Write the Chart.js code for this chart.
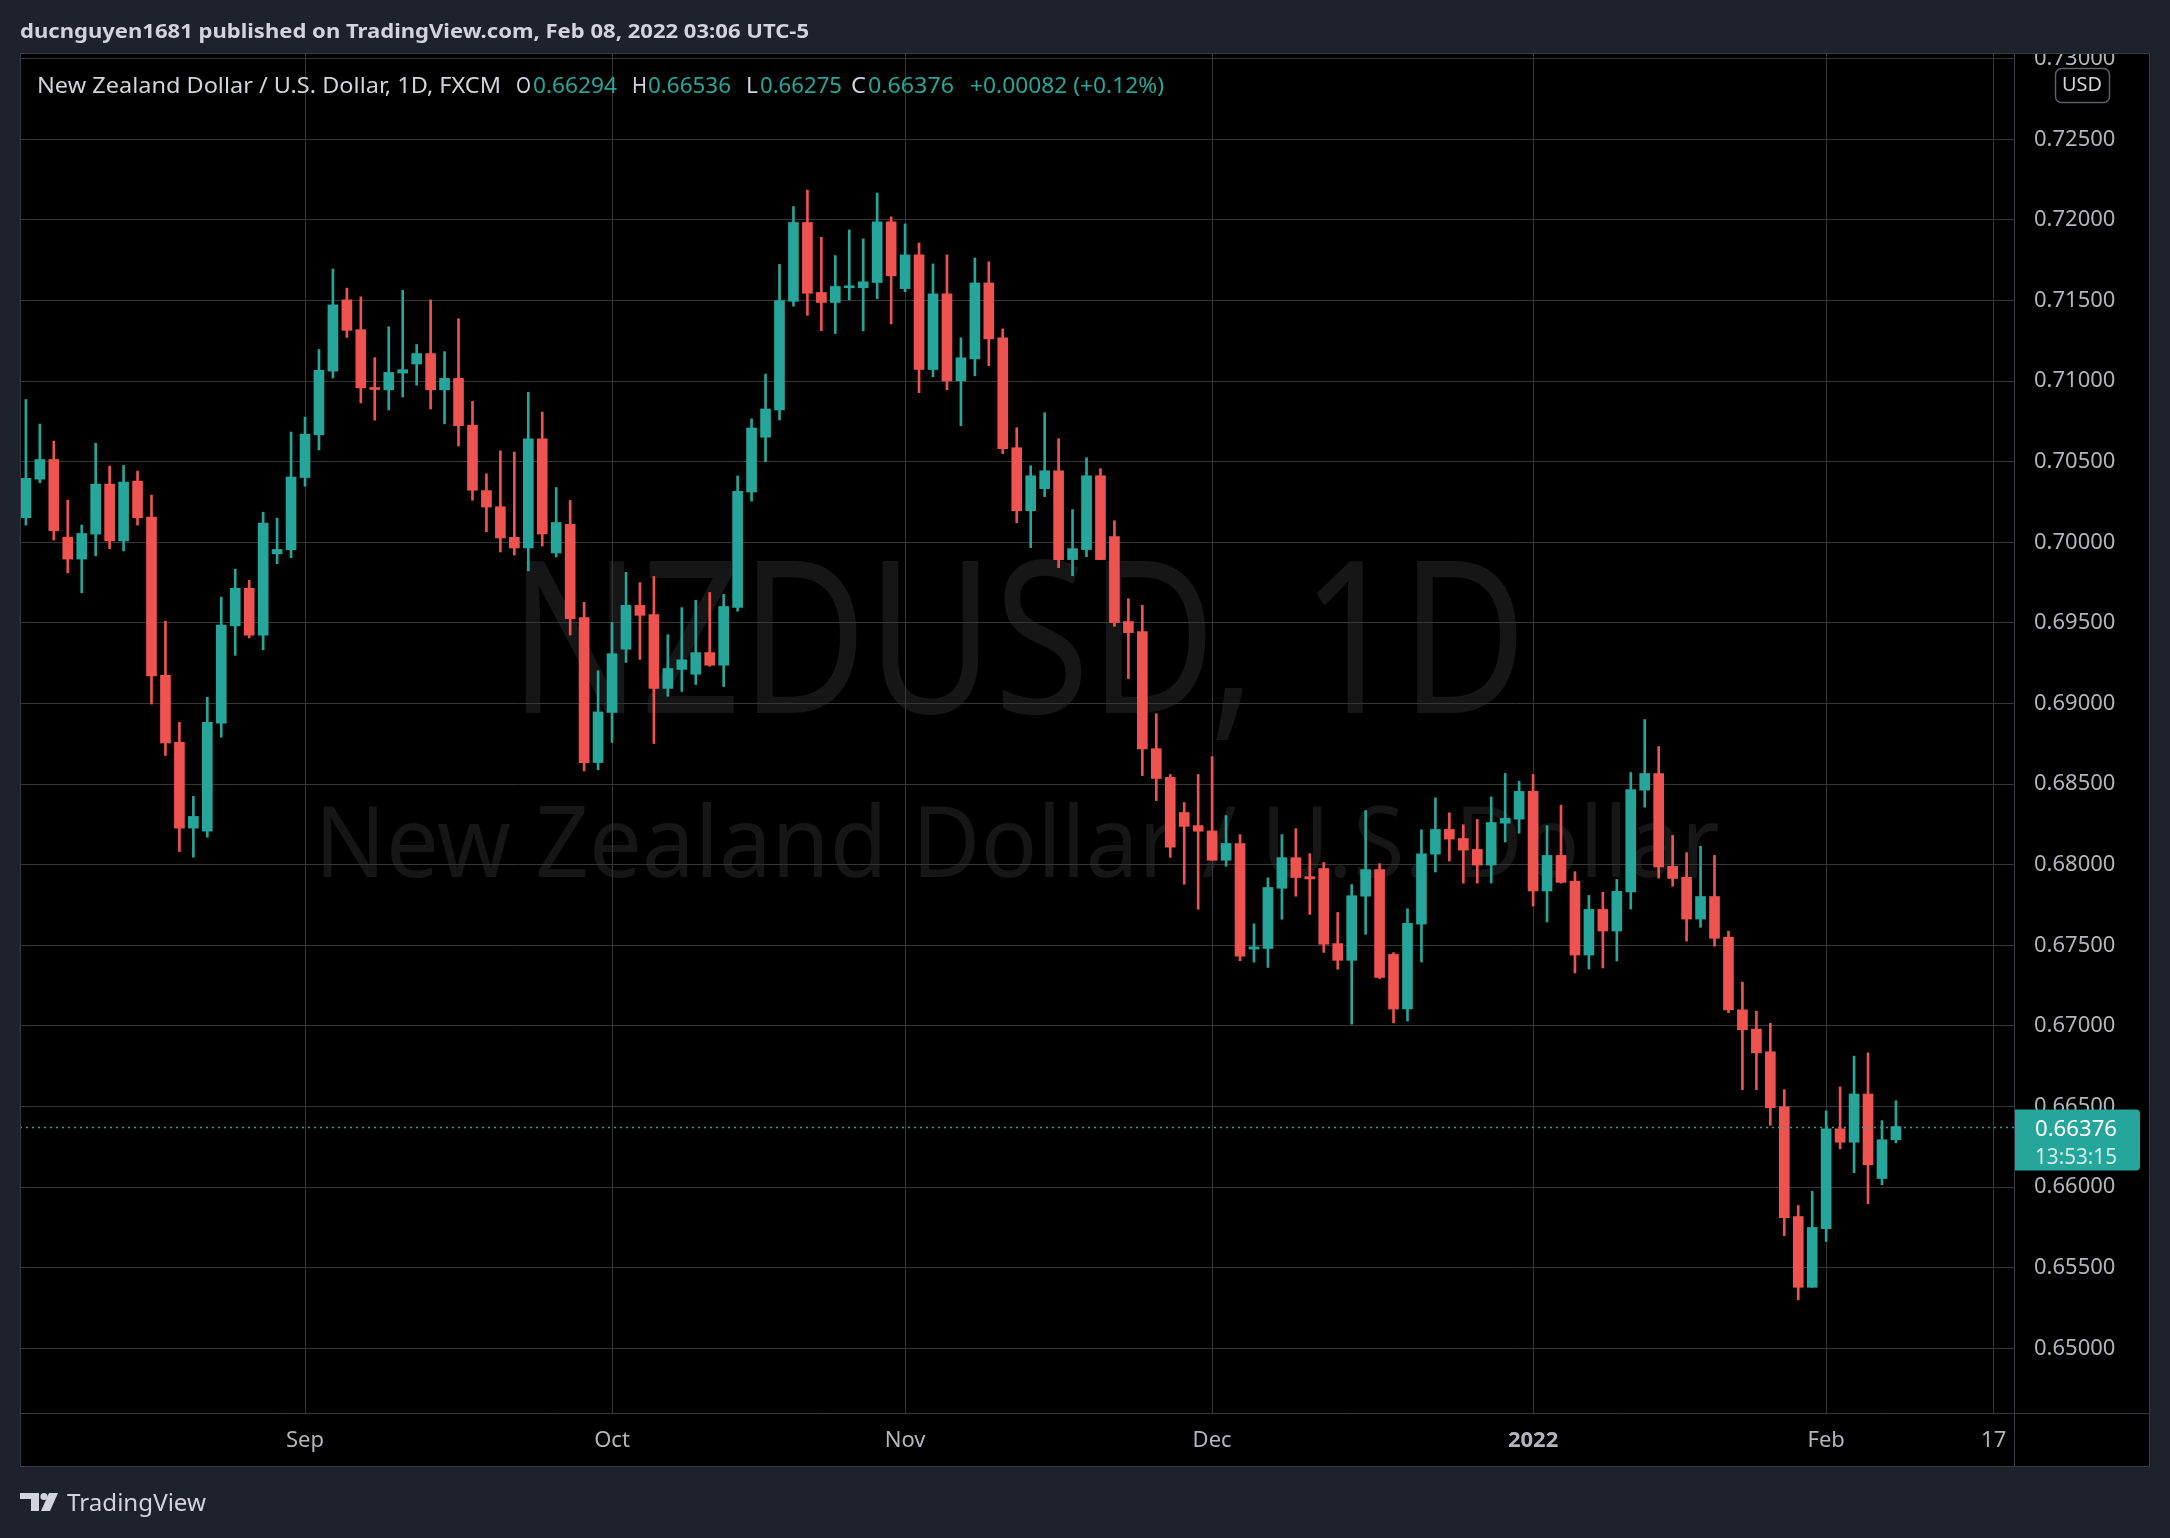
<!DOCTYPE html>
<html>
<head>
<meta charset="utf-8">
<title>NZDUSD, 1D</title>
<script src="https://cdn.jsdelivr.net/npm/chart.js@4.4.1/dist/chart.umd.min.js"></script>
<style>
  html, body { margin: 0; padding: 0; background: #1e222d; }
  #wrap { width: 2170px; height: 1538px; }
</style>
</head>
<body>
<div id="wrap"><canvas id="chart" width="2170" height="1538"></canvas></div>
<script>
// NZDUSD daily candles, FXCM, 4 Aug 2021 .. 8 Feb 2022 (one bar per weekday)
const opens = [
  0.70153, 0.70392, 0.70514, 0.70032, 0.69896, 0.70051, 0.70361, 0.70009, 0.70380, 0.70156,
  0.69175, 0.68759, 0.68227, 0.68209, 0.68879, 0.69482, 0.69715, 0.69424, 0.69929, 0.69954,
  0.70402, 0.70667, 0.71062, 0.71504, 0.71319, 0.70958, 0.70946, 0.71050, 0.71106, 0.71171,
  0.70946, 0.71017, 0.70727, 0.70321, 0.70221, 0.70031, 0.69965, 0.70642, 0.69934, 0.70112,
  0.69533, 0.68634, 0.68945, 0.69337, 0.69609, 0.69552, 0.69094, 0.69212, 0.69182, 0.69316,
  0.69238, 0.69597, 0.70312, 0.70652, 0.70822, 0.71495, 0.71984, 0.71550, 0.71488, 0.71579,
  0.71579, 0.71612, 0.71988, 0.71574, 0.71783, 0.71072, 0.71541, 0.71002, 0.71138, 0.71609,
  0.71269, 0.70587, 0.70196, 0.70333, 0.70444, 0.69893, 0.69955, 0.70413, 0.70035, 0.69509,
  0.69447, 0.68720, 0.68542, 0.68324, 0.68243, 0.68210, 0.68028, 0.68132, 0.67477, 0.67481,
  0.67854, 0.68044, 0.67926, 0.67977, 0.67511, 0.67407, 0.67805, 0.67970, 0.67444, 0.67105,
  0.67632, 0.68066, 0.68219, 0.68163, 0.68095, 0.67998, 0.68258, 0.68283, 0.68455, 0.67837,
  0.68058, 0.67897, 0.67440, 0.67723, 0.67589, 0.67831, 0.68463, 0.68566, 0.67990, 0.67922,
  0.67663, 0.67803, 0.67551, 0.67100, 0.66981, 0.66840, 0.66498, 0.65818, 0.65379, 0.65743,
  0.66362, 0.66279, 0.66578, 0.66054, 0.66294
];
const highs = [
  0.70886, 0.70734, 0.70628, 0.70262, 0.70107, 0.70614, 0.70473, 0.70477, 0.70442, 0.70293,
  0.69511, 0.68883, 0.68424, 0.69039, 0.69660, 0.69833, 0.69765, 0.70187, 0.70150, 0.70684,
  0.70777, 0.71196, 0.71696, 0.71577, 0.71523, 0.71146, 0.71337, 0.71564, 0.71227, 0.71504,
  0.71183, 0.71387, 0.70875, 0.70425, 0.70567, 0.70560, 0.70931, 0.70808, 0.70340, 0.70260,
  0.69628, 0.69203, 0.69503, 0.69814, 0.69750, 0.69788, 0.69427, 0.69595, 0.69640, 0.69689,
  0.69677, 0.70412, 0.70766, 0.71044, 0.71724, 0.72083, 0.72185, 0.71892, 0.71779, 0.71938,
  0.71882, 0.72167, 0.72019, 0.71975, 0.71857, 0.71727, 0.71783, 0.71269, 0.71764, 0.71740,
  0.71324, 0.70711, 0.70475, 0.70804, 0.70643, 0.70203, 0.70525, 0.70457, 0.70134, 0.69650,
  0.69609, 0.68937, 0.68560, 0.68386, 0.68560, 0.68671, 0.68305, 0.68187, 0.67634, 0.67919,
  0.68187, 0.68224, 0.68069, 0.68014, 0.67704, 0.67877, 0.68336, 0.68007, 0.67455, 0.67727,
  0.68217, 0.68415, 0.68322, 0.68248, 0.68281, 0.68421, 0.68566, 0.68517, 0.68560, 0.68242,
  0.68368, 0.67957, 0.67810, 0.67829, 0.67909, 0.68572, 0.68901, 0.68733, 0.68182, 0.68075,
  0.68114, 0.68058, 0.67588, 0.67272, 0.67092, 0.67017, 0.66605, 0.65886, 0.65974, 0.66473,
  0.66622, 0.66813, 0.66833, 0.66413, 0.66536
];
const lows = [
  0.70107, 0.70370, 0.70014, 0.69811, 0.69687, 0.69916, 0.69960, 0.69947, 0.70107, 0.68997,
  0.68678, 0.68082, 0.68047, 0.68171, 0.68792, 0.69299, 0.69407, 0.69333, 0.69867, 0.69904,
  0.70348, 0.70573, 0.71019, 0.71271, 0.70865, 0.70758, 0.70821, 0.70902, 0.70975, 0.70827,
  0.70735, 0.70598, 0.70261, 0.70065, 0.69940, 0.69921, 0.69823, 0.69977, 0.69909, 0.69425,
  0.68582, 0.68589, 0.68759, 0.69255, 0.69274, 0.68752, 0.69045, 0.69075, 0.69118, 0.69231,
  0.69106, 0.69573, 0.70256, 0.70500, 0.70759, 0.71465, 0.71408, 0.71313, 0.71295, 0.71504,
  0.71312, 0.71512, 0.71355, 0.71554, 0.70928, 0.71027, 0.70946, 0.70723, 0.71033, 0.71095,
  0.70550, 0.70122, 0.69967, 0.70283, 0.69843, 0.69793, 0.69911, 0.69893, 0.69479, 0.69155,
  0.68553, 0.68398, 0.68046, 0.67879, 0.67724, 0.68028, 0.67991, 0.67405, 0.67396, 0.67363,
  0.67662, 0.67805, 0.67692, 0.67456, 0.67352, 0.67011, 0.67569, 0.67294, 0.67019, 0.67031,
  0.67397, 0.67955, 0.68023, 0.67886, 0.67886, 0.67886, 0.68141, 0.68196, 0.67744, 0.67645,
  0.67886, 0.67329, 0.67353, 0.67360, 0.67403, 0.67725, 0.68357, 0.67917, 0.67867, 0.67527,
  0.67612, 0.67495, 0.67083, 0.66605, 0.66605, 0.66384, 0.65699, 0.65301, 0.65379, 0.65663,
  0.66238, 0.66090, 0.65898, 0.66015, 0.66275
];
const closes = [
  0.70397, 0.70514, 0.70072, 0.69896, 0.70055, 0.70361, 0.70009, 0.70374, 0.70152, 0.69171,
  0.68755, 0.68227, 0.68300, 0.68883, 0.69486, 0.69715, 0.69424, 0.70119, 0.69956, 0.70405,
  0.70671, 0.71067, 0.71473, 0.71315, 0.70958, 0.70948, 0.71054, 0.71071, 0.71171, 0.70946,
  0.71017, 0.70723, 0.70323, 0.70219, 0.70027, 0.69965, 0.70642, 0.70052, 0.70123, 0.69526,
  0.68634, 0.68948, 0.69309, 0.69609, 0.69547, 0.69094, 0.69217, 0.69271, 0.69316, 0.69238,
  0.69602, 0.70317, 0.70709, 0.70827, 0.71500, 0.71984, 0.71545, 0.71488, 0.71587, 0.71587,
  0.71616, 0.71988, 0.71653, 0.71783, 0.71072, 0.71541, 0.71002, 0.71145, 0.71609, 0.71262,
  0.70581, 0.70196, 0.70413, 0.70444, 0.69893, 0.69961, 0.70413, 0.69893, 0.69502, 0.69440,
  0.68718, 0.68535, 0.68109, 0.68238, 0.68208, 0.68028, 0.68132, 0.67433, 0.67491, 0.67859,
  0.68044, 0.67921, 0.67912, 0.67507, 0.67407, 0.67808, 0.67970, 0.67301, 0.67105, 0.67636,
  0.68068, 0.68219, 0.68159, 0.68091, 0.67998, 0.68262, 0.68287, 0.68455, 0.67837, 0.68058,
  0.67891, 0.67440, 0.67723, 0.67589, 0.67835, 0.68467, 0.68566, 0.67986, 0.67915, 0.67663,
  0.67803, 0.67544, 0.67100, 0.66976, 0.66833, 0.66493, 0.65811, 0.65379, 0.65750, 0.66362,
  0.66279, 0.66578, 0.66139, 0.66294, 0.66376
];

// time axis: bar index of each labelled day
const timeTicks = [20, 42, 63, 85, 108, 129, 141];
const timeLabels = ["Sep", "Oct", "Nov", "Dec", "2022", "Feb", "17"];
const priceTicks = [0.650, 0.655, 0.660, 0.665, 0.670, 0.675, 0.680, 0.685, 0.690,
                    0.695, 0.700, 0.705, 0.710, 0.715, 0.720, 0.725, 0.730];

const UP = "#26a69a";
const DOWN = "#ef5350";
const TEXT = "#b2b5be";
const LIGHT = "#d1d4dc";
const GRID = "#363636";
const FRAME = "#363a45";
const OUTER = "#1e222d";
const FONT = '"Noto Sans", "DejaVu Sans", sans-serif';

const last = closes.length - 1;
const candleColors = closes.map((c, i) => c >= opens[i] ? UP : DOWN);
const bodyData = opens.map((o, i) => ({ x: i, y: [o, closes[i]] }));
const wickData = lows.map((l, i) => ({ x: i, y: [l, highs[i]] }));

// draw text squeezed/stretched to a given width (baseline = alphabetic)
function fitText(ctx, text, x, y, width, font, color, align) {
  ctx.save();
  ctx.font = font;
  ctx.fillStyle = color;
  ctx.textBaseline = "alphabetic";
  ctx.textAlign = "left";
  const w = ctx.measureText(text).width;
  const left = align === "center" ? x - width / 2 : x;
  ctx.translate(left, y);
  ctx.scale(width / w, 1);
  ctx.fillText(text, 0, 0);
  ctx.restore();
}

const tvFrame = {
  id: "tvFrame",
  beforeDraw(chart) {
    const ctx = chart.ctx;
    ctx.save();
    ctx.fillStyle = OUTER;
    ctx.fillRect(0, 0, chart.width, chart.height);
    ctx.fillStyle = "#000000";
    ctx.fillRect(20, 53, 2130, 1414);
    ctx.restore();
    // watermark
    fitText(ctx, "NZDUSD, 1D", 1018, 713, 1018, "213px " + FONT, "#161616", "center");
    fitText(ctx, "New Zealand Dollar / U.S. Dollar", 1017, 877, 1405, "98px " + FONT, "#161616", "center");
  },
  afterDatasetsDraw(chart) {
    const ctx = chart.ctx;
    const area = chart.chartArea;
    const y = Math.round(chart.scales.y.getPixelForValue(closes[last])) + 0.5;
    ctx.save();
    ctx.strokeStyle = UP;
    ctx.lineWidth = 1.5;
    ctx.setLineDash([2, 4]);
    ctx.beginPath();
    ctx.moveTo(area.left, y);
    ctx.lineTo(area.right, y);
    ctx.stroke();
    ctx.restore();
  },
  afterDraw(chart) {
    const ctx = chart.ctx;
    const area = chart.chartArea;
    ctx.save();
    // keep the top price label under the frame edge
    ctx.fillStyle = OUTER;
    ctx.fillRect(area.right, 0, chart.width - area.right, 53);
    // frame and separators
    ctx.strokeStyle = FRAME;
    ctx.lineWidth = 1;
    ctx.strokeRect(20.5, 53.5, 2129, 1413);
    ctx.beginPath();
    ctx.moveTo(20, area.bottom + 0.5);
    ctx.lineTo(2150, area.bottom + 0.5);
    ctx.moveTo(area.right + 0.5, 53);
    ctx.lineTo(area.right + 0.5, 1467);
    ctx.stroke();

    // USD badge
    ctx.fillStyle = "#000000";
    ctx.strokeStyle = "#5d606b";
    ctx.lineWidth = 1.5;
    ctx.beginPath();
    ctx.roundRect(2055.5, 68.5, 54, 34, 6);
    ctx.fill();
    ctx.stroke();
    ctx.restore();
    fitText(ctx, "USD", 2062, 91, 40, "20px " + FONT, LIGHT, "left");

    // last price tag
    const py = chart.scales.y.getPixelForValue(closes[last]);
    ctx.save();
    ctx.fillStyle = UP;
    ctx.beginPath();
    ctx.roundRect(area.right + 1, py - 17, 125, 61, [0, 4, 4, 0]);
    ctx.fill();
    ctx.restore();
    fitText(ctx, closes[last].toFixed(5), 2035, py + 9.5, 82, "22px " + FONT, "#ffffff", "left");
    fitText(ctx, "13:53:15", 2035, py + 37, 82, "22px " + FONT, "rgba(255,255,255,0.78)", "left");

    // header
    fitText(ctx, "ducnguyen1681 published on TradingView.com, Feb 08, 2022 03:06 UTC-5",
            20, 38, 789, "bold 20px " + FONT, LIGHT, "left");

    // OHLC legend
    const change = closes[last] - closes[last - 1];
    const pct = change / closes[last - 1] * 100;
    const sign = change >= 0 ? "+" : "-";
    const valColor = change >= 0 ? UP : DOWN;
    const f = "21px " + FONT;
    const base = 92.5;
    fitText(ctx, "New Zealand Dollar / U.S. Dollar, 1D, FXCM", 37, base, 464, f, LIGHT, "left");
    const parts = [
      ["O", 516, opens[last].toFixed(5), 533, 84],
      ["H", 632, highs[last].toFixed(5), 648, 83],
      ["L", 746, lows[last].toFixed(5), 760, 82],
      ["C", 851, closes[last].toFixed(5), 868, 86]
    ];
    parts.forEach(p => {
      fitText(ctx, p[0], p[1], base, p[0] === "L" ? 12 : 15, f, LIGHT, "left");
      fitText(ctx, p[2], p[3], base, p[4], f, valColor, "left");
    });
    fitText(ctx, sign + Math.abs(change).toFixed(5) + " (" + sign + Math.abs(pct).toFixed(2) + "%)",
            970, base, 194, f, valColor, "left");

    // TradingView logo
    ctx.save();
    ctx.fillStyle = LIGHT;
    ctx.fillRect(20, 1493, 19, 6);
    ctx.fillRect(31, 1493, 8, 18);
    ctx.beginPath();
    ctx.arc(44, 1496.5, 3.6, 0, Math.PI * 2);
    ctx.fill();
    ctx.beginPath();
    ctx.moveTo(49, 1493);
    ctx.lineTo(58, 1493);
    ctx.lineTo(50, 1511);
    ctx.lineTo(41, 1511);
    ctx.closePath();
    ctx.fill();
    ctx.restore();
    fitText(ctx, "TradingView", 67, 1511, 139, "24px " + FONT, LIGHT, "left");
  }
};

new Chart(document.getElementById("chart"), {
  type: "bar",
  data: {
    datasets: [
      {
        label: "body",
        data: bodyData,
        backgroundColor: candleColors,
        borderWidth: 0,
        barThickness: 10,
        minBarLength: 2,
        grouped: false,
        order: 1
      },
      {
        label: "wick",
        data: wickData,
        backgroundColor: candleColors,
        borderWidth: 0,
        barThickness: 2,
        grouped: false,
        order: 2
      }
    ]
  },
  options: {
    responsive: false,
    animation: false,
    devicePixelRatio: 1,
    layout: { padding: { left: 20, top: 53, right: 20, bottom: 71 } },
    plugins: {
      legend: { display: false },
      tooltip: { enabled: false }
    },
    scales: {
      x: {
        type: "linear",
        min: -0.423,
        max: 142.46,
        offset: false,
        afterFit(scale) { scale.height = 54; },
        afterBuildTicks(scale) { scale.ticks = timeTicks.map(v => ({ value: v })); },
        grid: { color: GRID, lineWidth: 1, drawTicks: false, offset: false },
        border: { display: false },
        ticks: {
          autoSkip: false,
          maxRotation: 0,
          padding: 15,
          color: TEXT,
          font: (c) => ({
            family: FONT,
            size: 22,
            weight: c.tick && c.tick.value === timeTicks[timeLabels.indexOf("2022")] ? "bold" : "normal"
          }),
          callback: (v) => timeLabels[timeTicks.indexOf(v)]
        }
      },
      y: {
        position: "right",
        min: 0.645992,
        max: 0.730354,
        afterFit(scale) { scale.width = 136; },
        afterBuildTicks(scale) { scale.ticks = priceTicks.map(v => ({ value: v })); },
        grid: { color: GRID, lineWidth: 1, drawTicks: false },
        border: { display: false },
        ticks: {
          padding: 20,
          color: TEXT,
          font: { family: FONT, size: 22 },
          callback: (v) => Number(v).toFixed(5)
        }
      }
    }
  },
  plugins: [tvFrame]
});
</script>
</body>
</html>
